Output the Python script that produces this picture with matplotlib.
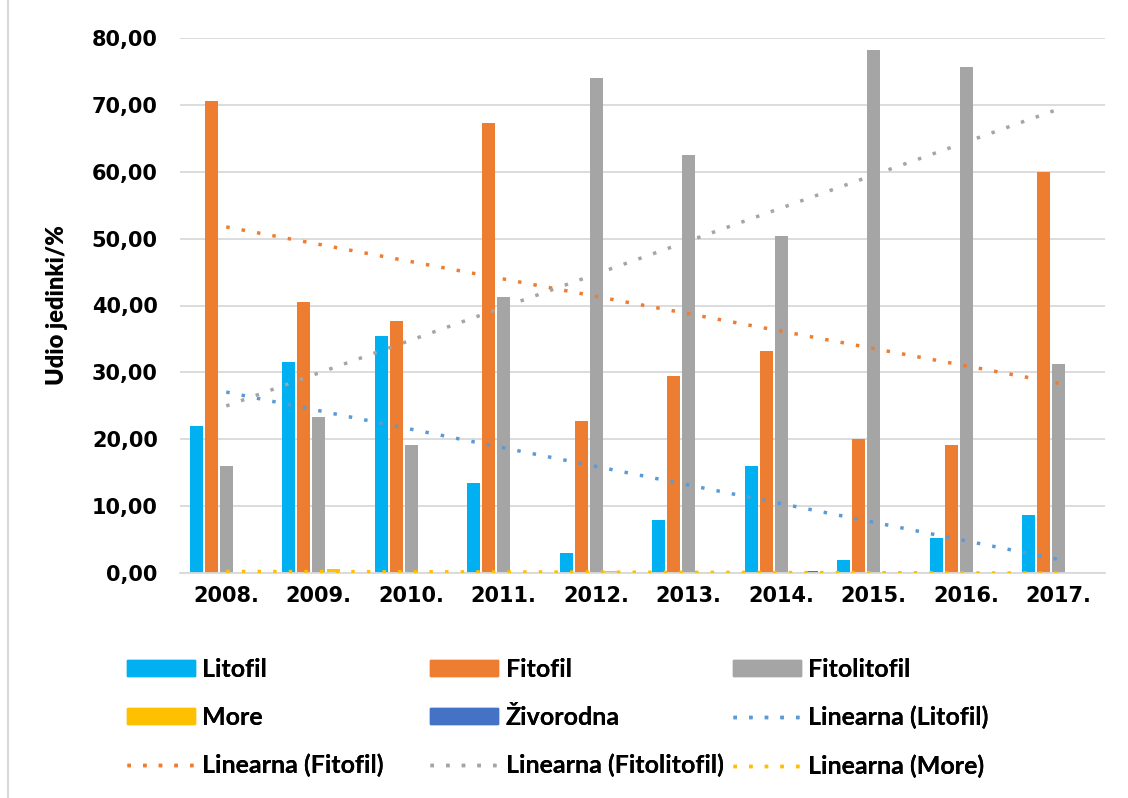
import matplotlib

matplotlib.use("Agg")
import matplotlib.pyplot as plt
import numpy as np
from matplotlib.lines import Line2D
from matplotlib.patches import Patch

years = ["2008.", "2009.", "2010.", "2011.", "2012.",
         "2013.", "2014.", "2015.", "2016.", "2017."]
litofil = [22.0, 31.6, 35.4, 13.5, 3.0, 8.0, 16.0, 2.0, 5.2, 8.7]
fitofil = [70.6, 40.5, 37.7, 67.3, 22.7, 29.4, 33.2, 20.0, 19.2, 60.0]
fitolitofil = [16.0, 23.4, 19.2, 41.2, 74.0, 62.5, 50.4, 78.2, 75.6, 31.3]
more = [0.0, 0.65, 0.0, 0.0, 0.3, 0.2, 0.0, 0.0, 0.0, 0.0]
zivorodna = [0.0, 0.0, 0.0, 0.0, 0.0, 0.0, 0.3, 0.0, 0.0, 0.0]
yticks = [0, 10, 20, 30, 40, 50, 60, 70, 80]

series = [
    ("Litofil", litofil, "#00B0F0"),
    ("Fitofil", fitofil, "#ED7D31"),
    ("Fitolitofil", fitolitofil, "#A5A5A5"),
    ("More", more, "#FFC000"),
    ("Živorodna", zivorodna, "#4472C4"),
]
# trendline colours (Excel uses a softer blue for the Litofil trend)
trend_col = {"Litofil": "#5B9BD5", "Fitofil": "#ED7D31",
             "Fitolitofil": "#A5A5A5", "More": "#FFC000"}
DOTS = (0, (1, 3.5))

fig = plt.figure(figsize=(11.28, 7.98), dpi=100)
ax = fig.add_axes([180 / 1128, 1 - 573 / 798, 925 / 1128, 535 / 798])

x = np.arange(len(years))
slot = 0.162
bw = 0.14
for i, (name, vals, col) in enumerate(series):
    ax.bar(x + (i - 2) * slot, vals, bw, color=col, zorder=2)

# linear trendlines (least squares, like Excel)
for name, vals, col in series:
    if name not in trend_col:
        continue
    k, b = np.polyfit(x, vals, 1)
    ax.plot(x, k * x + b, color=trend_col[name], lw=2.5, linestyle=DOTS,
            zorder=3)

ax.set_xlim(-0.5, len(years) - 0.5)
ax.set_ylim(0, 80)
ax.set_yticks(yticks)
ax.set_yticklabels([f"{v:.2f}".replace(".", ",") for v in yticks])
ax.set_xticks(x)
ax.set_xticklabels(years)
ax.tick_params(length=0, labelsize=15)
ax.tick_params(axis="y", pad=16)
ax.tick_params(axis="x", pad=9)
for lab in ax.get_xticklabels() + ax.get_yticklabels():
    lab.set_fontweight("bold")
ax.grid(axis="y", color="#D9D9D9", lw=1.3, zorder=0)
for s in ("left", "right", "top"):
    ax.spines[s].set_visible(False)
ax.spines["bottom"].set_color("#D9D9D9")
ax.spines["bottom"].set_linewidth(1.3)
ax.set_ylabel("Udio jedinki/%", fontsize=17, fontweight="heavy",
              family="Lato", labelpad=17)

patches = {n: Patch(color=c, label=n) for n, _, c in series}
trends = {n: Line2D([], [], color=c, lw=2.5, linestyle=DOTS,
                    label=f"Linearna ({n})") for n, c in trend_col.items()}
columns = [
    (127, [patches["Litofil"], patches["More"], trends["Fitofil"]]),
    (430, [patches["Fitofil"], patches["Živorodna"], trends["Fitolitofil"]]),
    (733, [patches["Fitolitofil"], trends["Litofil"], trends["More"]]),
]
for xpix, hs in columns:
    leg = fig.legend(handles=hs, loc="upper left",
                     bbox_to_anchor=(xpix / 1128, 1 - 658 / 798),
                     frameon=False, borderpad=0, borderaxespad=0,
                     prop={"family": "Lato", "weight": "bold", "size": 18},
                     handlelength=2.7, handleheight=0.6, handletextpad=0.32,
                     labelspacing=1.0)
    fig.add_artist(leg)

fig.add_artist(Line2D([8 / 1128, 8 / 1128], [0, 1], color="#D9D9D9",
                      lw=1.5, transform=fig.transFigure))

fig.savefig("out.png", dpi=100, facecolor="white")
